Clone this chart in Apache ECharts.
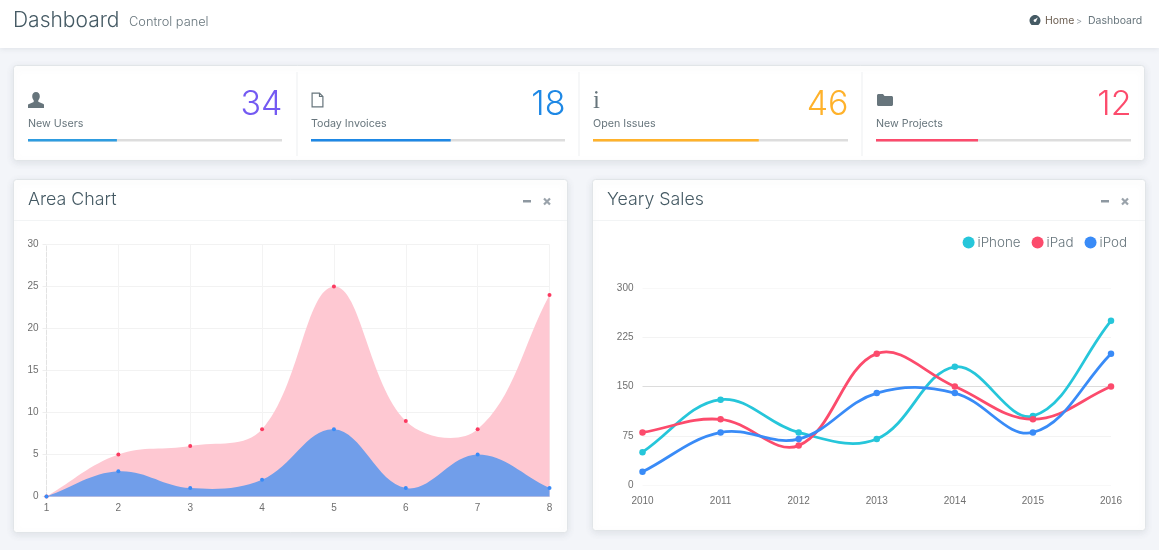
<!DOCTYPE html>
<html><head><meta charset="utf-8">
<style>html,body{margin:0;padding:0;background:#f3f5f9}#c{width:1159px;height:550px}</style>
<script src="https://cdn.jsdelivr.net/npm/echarts@6/dist/echarts.min.js"></script>
</head><body><div id="c"></div>
<script>
const areaCategories = ['1','2','3','4','5','6','7','8'];
const areaPink = [0,5,6,8,25,9,8,24];
const areaBlue = [0,3,1,2,8,1,5,1];
const years = ['2010','2011','2012','2013','2014','2015','2016'];
const iPhone = [50,130,80,70,180,105,250];
const iPad = [80,100,60,200,150,100,150];
const iPod = [20,80,70,140,140,80,200];
const statLabels = ['New Users','Today Invoices','Open Issues','New Projects'];
const statValues = ['34','18','46','12'];
const statProgress = [35,55,65,40];
const statValueColors = ['#745af2','#1e88e5','#ffb22b','#fc4b6c'];
const statBarColors = ['#2e9ce0','#1e88e5','#ffb22b','#fc4b6c'];

const UI = 'Inter, "Open Sans", sans-serif';
const els = [];
let iconId = 0;
const text = (t,x,y,font,fill,align) => els.push({type:'text',style:{text:t,x,y,font:font+' '+UI,fill,align:align||'left',verticalAlign:'middle'}});
const rect = (x,y,w,h,fill,extra) => els.push({type:'rect',shape:Object.assign({x,y,width:w,height:h},extra&&extra.r?{r:extra.r}:{}),style:Object.assign({fill},extra&&extra.style||{})});
const path = (d,x,y,style) => {
  const name='icon'+(iconId++);
  echarts.graphic.registerShape(name,echarts.graphic.extendPath(d));
  els.push({type:name,x,y,style});
};
const cardStyle = {style:{shadowBlur:7,shadowColor:'rgba(120,130,140,.16)',shadowOffsetY:2,stroke:'#e1e5e8',lineWidth:1}, r:3};

// header
rect(0,0,1159,48,'#fff',{style:{shadowBlur:5,shadowColor:'rgba(120,130,140,.16)',shadowOffsetY:1}});
text('Dashboard',13,20.5,'300 21px','#455a64');
text('Control panel',129,22,'300 12.8px','#67757c');
const gauge='M5.5 0C2.5 0 0 2.5 0 5.5c0 1.8.8 3.4 2.1 4.5h6.8C10.200 8.900 11 7.300 11 5.500 11 2.500 8.500 0 5.500 0zM5.500 7a1.400 1.400 0 1 1 0-2.800L8.300 2.500 6.900 5.500A1.400 1.400 0 0 1 5.500 7z';
path(gauge,1029.5,15,{fill:'#455a64'});
text('Home',1045,21,'400 10.5px','#6b5d50');
text('>',1079,21,'400 9px','#99a2a8','center');
text('Dashboard',1088,21,'400 10.5px','#67757c');

// stat card
rect(13.5,65.5,1131,95,'#fff',cardStyle);
const colX=[28,311,593,876], colEnd=[282,565,848,1131];
statLabels.forEach((l,i)=>{
  text(l,colX[i],123.5,'400 10.7px','#67757c');
  text(statValues[i],colEnd[i]+0.5,105,'300 34px',statValueColors[i],'right');
  rect(colX[i],139,colEnd[i]-colX[i],2.5,'#dddddd');
  rect(colX[i],139,(colEnd[i]-colX[i])*statProgress[i]/100,2.5,statBarColors[i]);
});
[296.5,578.5,861.5].forEach(x=>rect(x,72,1,84,'#eef0f2'));
// icons
path('M8 0c2.4 0 3.8 1.9 3.8 4.3 0 1.7-.7 3.1-1.5 4v1.500l5.200 2.300c.4.2.5.5.5.9V16H0v-2.900c0-.4.1-.7.5-.9l5.200-2.300V8.300C4.900 7.400 4.200 6 4.200 4.300 4.200 1.900 5.600 0 8 0z',28,92,{fill:'#67757c'});
path('M.6.6H8L11.4 4V14.4H.6zM8 .6V4h3.4',311.5,92.5,{fill:'none',stroke:'#67757c',lineWidth:1.2});
els.push({type:'text',style:{text:'i',x:596.5,y:101,font:'400 25px "Liberation Serif"',fill:'#67757c',align:'center',verticalAlign:'middle'}});
path('M0 1.5C0 .7.7 0 1.5 0H6l1.500 2H14.500C15.300 2 16 2.700 16 3.500V10.500C16 11.300 15.300 12 14.500 12H1.500C.7 12 0 11.300 0 10.500z',877,94,{fill:'#67757c'});

// area and sales cards
rect(13.5,179.5,554,353,'#fff',cardStyle);
rect(592.5,179.5,553,351,'#fff',cardStyle);
rect(14,220,553,1,'#f2f4f5');
rect(593,220,552,1,'#f2f4f5');
text('Area Chart',28,200,'300 17.8px','#455a64');
text('Yeary Sales',607,200,'300 17.8px','#455a64');
[[527,547],[1105,1125]].forEach(p=>{
  rect(p[0]-4,200,8,2.5,'#8e98a1');
  path('M-3-3L3 3M3-3L-3 3',p[1],201.5,{fill:'none',stroke:'#9aa3ab',lineWidth:2.2});
});

// Spline through points placed by the axes (control points from the neighbouring points).
const TENSION = 0.38;
function splineSegments(api, values){
  const pts = values.map((v,i)=>api.coord([i,v]));
  const cps = pts.map((p,i)=>{
    const a = pts[i-1]||p, b = pts[i+1]||p;
    const d01 = Math.hypot(p[0]-a[0],p[1]-a[1]), d12 = Math.hypot(b[0]-p[0],b[1]-p[1]);
    const fa = TENSION*d01/(d01+d12), fb = TENSION*d12/(d01+d12);
    return {prev:[p[0]-fa*(b[0]-a[0]),p[1]-fa*(b[1]-a[1])],next:[p[0]+fb*(b[0]-a[0]),p[1]+fb*(b[1]-a[1])]};
  });
  let d = 'M'+pts[0][0]+' '+pts[0][1];
  for(let i=1;i<pts.length;i++){
    d += 'C'+cps[i-1].next.join(' ')+' '+cps[i].prev.join(' ')+' '+pts[i].join(' ');
  }
  return {d,pts};
}
const curveSeries = (values,xi,style,fillArea) => ({
  type:'custom',xAxisIndex:xi,yAxisIndex:xi,silent:true,z:2,
  data:values.map((v,i)=>[i,v]),clip:false,
  renderItem:(params,api)=>{
    if(params.dataIndex!==0) return null;
    const s = splineSegments(api,values);
    let d = s.d;
    if(fillArea){
      const base = api.coord([0,0])[1];
      d += 'L'+s.pts[s.pts.length-1][0]+' '+base+'L'+s.pts[0][0]+' '+base+'Z';
    }
    return {type:'path',shape:{pathData:d},style};
  }
});
const pointSeries = (name,values,xi,color,size,z) => ({
  name,type:'line',xAxisIndex:xi,yAxisIndex:xi,data:values,smooth:TENSION,symbol:'circle',symbolSize:size,showAllSymbol:true,z,
  lineStyle:{width:0,color},itemStyle:{color}
});

const axisFont = {fontFamily:'"Liberation Sans", Arial, sans-serif',fontSize:10,color:'#6f6f6f'};
const option = {
  backgroundColor:'#f3f5f9',
  animation:false,
  graphic:{elements:els},
  legend:{
    top:231,right:27,itemWidth:12,itemHeight:12,itemGap:11,icon:'circle',
    data:['iPhone','iPad','iPod'],
    textStyle:{fontFamily:UI,fontSize:13.4,fontWeight:300,color:'#67757c',padding:[0,0,0,-2]}
  },
  grid:[
    {left:46.5,top:244.5,width:503,height:252},
    {left:642.5,top:288,width:468.5,height:197}
  ],
  xAxis:[
    {type:'category',gridIndex:0,boundaryGap:false,data:areaCategories,z:1,
      axisLine:{lineStyle:{color:'#e4e4e4'}},axisTick:{show:false},
      axisLabel:Object.assign({margin:7},axisFont,{showMinLabel:true,showMaxLabel:true,interval:0}),
      splitLine:{show:true,lineStyle:{color:'#f3f3f3'}}},
    {type:'category',gridIndex:1,boundaryGap:false,data:years,z:1,
      axisLine:{show:false},axisTick:{show:false},
      axisLabel:Object.assign({margin:11},axisFont,{interval:0}),
      splitLine:{show:false}}
  ],
  yAxis:[
    {type:'value',gridIndex:0,min:0,max:30,interval:5,z:1,
      axisLine:{show:true,lineStyle:{color:'#e2e2e2',type:'dashed'}},
      axisTick:{show:true,length:4,lineStyle:{color:'#eeeeee'}},
      axisLabel:Object.assign({margin:8,padding:[3,0,0,0]},axisFont),
      splitLine:{lineStyle:{color:'#f2f2f2'}}},
    {type:'value',gridIndex:1,min:0,max:300,interval:75,z:1,
      axisLine:{show:false},axisTick:{show:false},
      axisLabel:Object.assign({margin:9,padding:[3,0,0,0]},axisFont),
      splitLine:{lineStyle:{color:['#f8f8f8','#f3f3f3','#dcdcdc','#f3f3f3','#f8f8f8']}}}
  ],
  series:[
    curveSeries(areaPink,0,{fill:'#fec8d2'},true),
    curveSeries(areaBlue,0,{fill:'#719eea'},true),
    pointSeries('Pink',areaPink,0,'#fb3a60',4,3),
    pointSeries('Blue',areaBlue,0,'#398bf7',4,3),
    curveSeries(iPhone,1,{fill:'none',stroke:'#26c6da',lineWidth:2.8}),
    curveSeries(iPad,1,{fill:'none',stroke:'#fc4b6c',lineWidth:2.8}),
    curveSeries(iPod,1,{fill:'none',stroke:'#398bf7',lineWidth:2.8}),
    pointSeries('iPhone',iPhone,1,'#26c6da',6.5,3),
    pointSeries('iPad',iPad,1,'#fc4b6c',6.5,3),
    pointSeries('iPod',iPod,1,'#398bf7',6.5,3)
  ]
};
echarts.init(document.getElementById('c'),null,{renderer:'canvas'}).setOption(option);
</script></body></html>
